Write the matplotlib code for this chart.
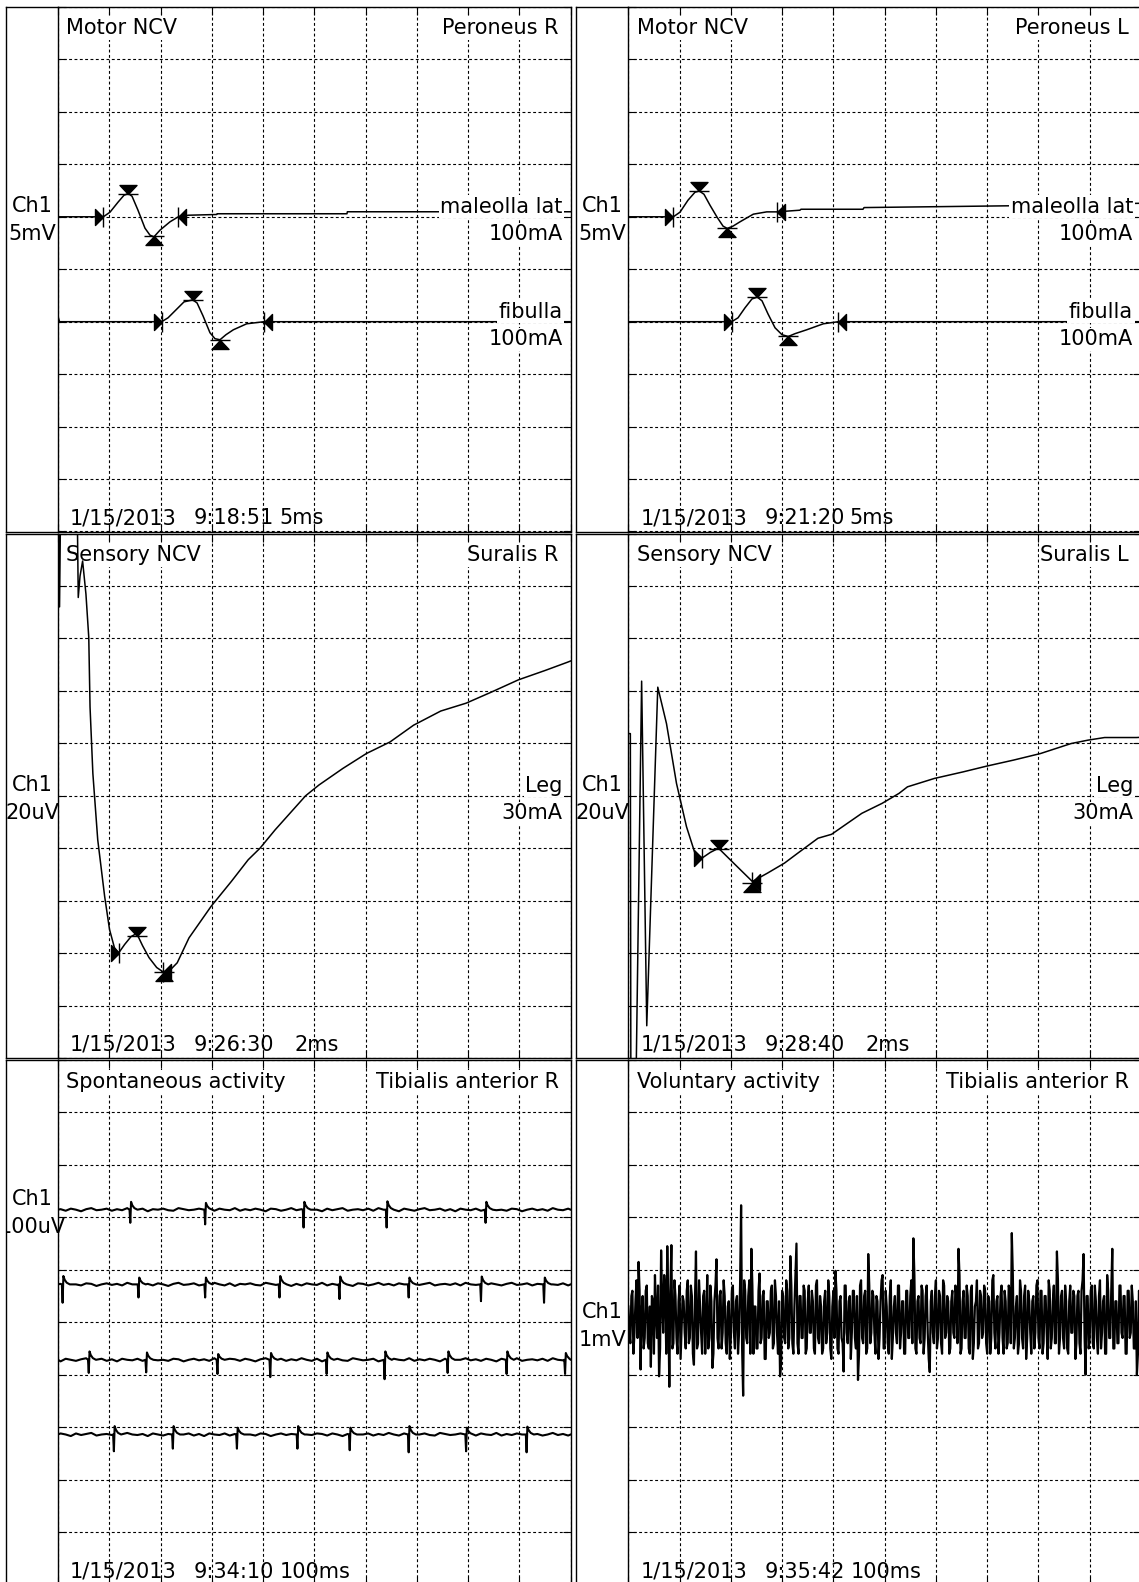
import numpy as np
import matplotlib
matplotlib.use("Agg")
import matplotlib.pyplot as plt
from matplotlib.path import Path
from matplotlib.patches import Rectangle

# ======================= DATA =======================
# ---- Motor NCV, Peroneus R  (time ms, amplitude mV)
perR_mal_t = [0, 4.42, 5.07, 5.85, 6.44, 6.86, 7.22, 7.80, 8.48, 8.97, 9.36, 9.95, 10.92, 11.73,
              12.71, 15.48, 15.52, 28.18, 28.22, 50.0]
perR_mal_v = [5.0, 5.0, 5.44, 6.39, 7.06, 7.21, 6.96, 5.63, 3.92, 3.25, 3.09, 3.73, 4.52, 5.0,
              5.15, 5.22, 5.29, 5.29, 5.48, 5.48]
perR_mal_marks = {"onset": (4.42, 5.0), "peak": (6.86, 7.15), "trough": (9.36, 3.16), "end": (11.73, 5.0)}
perR_fib_t = [0, 0.15, 10.11, 10.73, 11.51, 12.29, 13.14, 13.56, 14.14, 14.82, 15.31, 15.80, 16.38,
              17.10, 18.40, 20.09, 50.0]
perR_fib_v = [-4.5, -5.0, -5.0, -4.63, -3.87, -3.11, -2.92, -3.21, -4.44, -6.05, -6.62, -6.72, -6.24,
              -5.77, -5.2, -5.0, -5.0]
perR_fib_marks = {"onset": (10.11, -5.0), "peak": (13.14, -2.92), "trough": (15.80, -6.72), "end": (20.09, -5.0)}

# ---- Motor NCV, Peroneus L
perL_mal_t = [0, 4.39, 5.04, 5.82, 6.50, 6.92, 7.38, 7.97, 8.66, 9.24, 9.65, 10.21, 10.89, 12.19,
              13.50, 14.47, 16.74, 16.84, 22.89, 22.99, 37.22, 50.0]
perL_mal_v = [5.0, 5.0, 5.44, 6.58, 7.34, 7.46, 7.15, 6.10, 4.96, 4.11, 3.89, 4.11, 4.52, 5.25,
              5.47, 5.47, 5.63, 5.72, 5.72, 5.88, 6.05, 6.29]
perL_mal_marks = {"onset": (4.39, 5.0), "peak": (6.92, 7.46), "trough": (9.65, 3.89), "end": (14.47, 5.47)}
perL_fib_t = [0, 10.08, 10.70, 11.38, 12.06, 12.58, 13.04, 13.62, 14.31, 14.99, 15.60, 16.26, 17.40,
              19.02, 20.48, 50.0]
perL_fib_v = [-5.0, -5.0, -4.63, -3.68, -2.83, -2.66, -3.01, -4.25, -5.58, -6.24, -6.41, -6.14, -5.77,
              -5.2, -5.0, -5.0]
perL_fib_marks = {"onset": (10.08, -5.0), "peak": (12.58, -2.66), "trough": (15.60, -6.41), "end": (20.48, -5.0)}

# ---- Sensory NCV, Suralis R  (time ms, amplitude uV)
surR_t = [0.0, 0.03, 0.06, 0.10, 0.75, 0.79, 0.86, 0.96, 1.09, 1.20, 1.25, 1.36, 1.55, 1.82, 2.01,
          2.20, 2.37, 2.60, 2.85, 3.07, 3.30, 3.55, 3.85, 4.15, 4.40, 4.65, 5.11, 5.97, 6.76, 7.42,
          7.88, 8.47, 9.66, 10.18, 11.11, 12.03, 12.95, 13.87, 14.93, 15.92, 16.90, 17.96, 19.01,
          19.87, 20.0]
surR_v = [60, 110, 72, 110, 110, 75.6, 83.8, 89.5, 76.9, 60.4, 33.8, 8.5, -16.8, -38.4, -51.0,
          -57.9, -59.9, -56.7, -53.7, -52.5, -57.2, -61.7, -65.5, -67.5, -66.2, -63.7, -54.2, -42.2,
          -32.7, -24.4, -20.0, -13.0, 0.0, 4.1, 10.4, 16.1, 20.5, 26.9, 32.3, 35.3, 39.5, 44.2, 47.8,
          50.9, 51.4]
surR_marks = {"onset": (2.37, -59.9), "peak": (3.07, -53.3), "trough": (4.15, -67.2), "end": (4.10, -67.2)}

# ---- Sensory NCV, Suralis L
surL_t = [0.0, 0.08, 0.10, 0.23, 0.30, 0.52, 0.72, 1.15, 1.49, 1.88, 2.27, 2.60, 2.87, 3.20, 3.52,
          4.11, 4.84, 5.43, 6.09, 6.61, 7.40, 7.93, 8.46, 9.11, 9.90, 10.56, 10.89, 11.94, 13.06,
          13.98, 15.03, 16.08, 17.27, 17.93, 18.58, 19.83, 20.0]
surL_v = [23.7, 23.7, -110, -110, -110, 43.7, -87.7, 41.4, 27.5, 4.7, -11.8, -21.9, -23.8, -21.6,
          -20.0, -25.7, -32.7, -29.5, -25.7, -21.9, -16.2, -14.7, -11.1, -6.7, -2.9, 0.9, 3.4, 6.6,
          9.1, 11.3, 13.6, 16.1, 19.9, 21.2, 22.2, 22.2, 22.3]
surL_marks = {"onset": (2.87, -23.8), "peak": (3.52, -20.3), "trough": (4.84, -33.3), "end": (4.84, -33.0)}

# ---- Spontaneous activity (time ms, uV): 4 sweeps, spike times and deflections
spont_base_uv = [214.6, 72.2, -71.6, -214.0]
spont_spike_t = [[141, 287, 479, 641, 834],
                 [9, 157, 287, 432, 549, 684, 825, 948],
                 [60, 172, 311, 414, 524, 637, 760, 875, 989],
                 [109, 224, 349, 467, 569, 684, 796, 914]]
spont_spike_down = [[25, 28, 34, 34, 25],
                    [35, 25, 25, 25, 28, 25, 32, 35],
                    [25, 24, 27, 33, 27, 37, 25, 27, 27],
                    [32, 27, 27, 27, 30, 34, 32, 34]]
spont_spike_up = [[15, 13, 15, 16, 15],
                  [16, 13, 13, 16, 15, 13, 15, 13],
                  [16, 14, 11, 13, 14, 16, 16, 16, 13],
                  [16, 16, 13, 16, 13, 16, 13, 15]]
spont_wiggle_uv = [1, -2, 2, 0, -3, 1, 3, -1, 0, 2, -2, 1, -1, 3, 0, -2, 2, -3, 1, 0,
                   2, -1, -2, 3, 1, -1, 0, 2, -3, 1, -2, 2, 0, -1, 3, -2, 1, -1, 2, 0,
                   -3, 2, 1, -2, 0, 3, -1, 1, -2, 2, 0, -3, 2, -1, 1, 3, -2, 0, 1, -1,
                   2, -2, 3, 0, -1, 1, -3, 2, 0, -2, 1, 3, -1, 0, 2, -2, 1, -3, 2, 0,
                   -1, 2, -2, 1, 3, -1, 0, -2, 2, 1, -3, 0, 2, -1, 1, -2, 3, 0, -1, 2]

# ---- Voluntary activity (mV): samples at 0,4,8,... ms (a) and 2,6,10,... ms (b)
vol_dt_ms = 4.0
vol_mv_a = [0.3, -0.4, 0.6, -0.2, 0.8, 1.15, -0.9, 0.5, -0.3, 0.7,
            -0.5, -0.85, 0.4, 0.9, -0.3, -1.03, 1.37, -0.2, 0.6, 1.45,
            -1.23, 1.47, -0.4, 0.5, -0.6, 0.7, -0.1, 0.4, -0.5, 0.8,
            -0.3, 0.5, -0.81, 1.35, -0.4, 0.3, -0.6, 0.6, 0.0, -0.5,
            0.7, -0.87, 0.4, 1.2, -0.5, 0.6, -0.2, 0.5, -0.6, 0.4,
            -0.3, 0.7, -0.5, 0.5, -0.2, 2.23, -1.4, 0.6, -0.4, 0.8,
            1.4, -0.6, 0.3, -0.5, 0.93, -0.3, 0.6, -0.7, 0.4, -0.2,
            0.7, -0.4, 0.5, -0.6, -1.03, 0.6, -0.3, 0.8, -0.5, 1.26,
            -0.4, 0.3, 1.5, -0.6, 0.5, -0.3, 0.6, -0.5, 0.7, -0.2,
            0.4, -0.6, 0.8, -0.4, 0.3, -0.5, 0.6, -0.2, 0.5, -0.7,
            0.6, 0.98, -0.5, 0.4, -0.3, -0.94, 0.7, -0.4, 0.5, -0.2,
            0.6, -0.5, -1.1, 0.7, -0.3, 0.5, -0.6, 1.3, -0.4, 0.6,
            -0.2, 0.5, -0.7, 0.4, 0.9, -0.5, 0.3, -0.6, 0.8, -0.3,
            0.5, -0.4, 0.7, -0.2, 0.4, -0.6, 0.6, -0.3, 0.8, 1.6,
            -0.5, 0.4, -0.3, 0.7, -0.6, 0.5, -0.2, -0.95, 0.6, -0.4,
            0.8, -0.3, 0.5, -0.6, 0.7, -0.2, 0.4, -0.5, 0.6, -0.3,
            0.5, 1.4, -0.6, 0.4, -0.3, 0.7, -0.5, 0.6, -0.7, 0.3,
            0.8, -0.4, 0.5, -0.2, 0.6, -0.6, 0.4, -0.3, 0.9, -0.5,
            0.5, -0.2, 0.7, -0.6, 0.4, -0.4, 0.6, 1.7, -0.5, 0.3,
            -0.6, 0.8, -0.3, 0.5, -0.7, 0.6, -0.2, 0.4, -0.5, 0.7,
            -0.3, 0.6, -0.6, 0.5, -0.2, 0.8, -0.5, 0.4, -0.4, 1.35,
            -0.6, 0.5, -0.3, 0.7, -0.5, 0.4, -0.2, 0.6, -0.7, 0.5,
            -0.4, 0.6, 1.3, -1.0, 0.5, -0.3, 0.7, -0.5, 0.4, -0.6,
            0.8, -0.2, 0.5, -0.6, 0.6, -0.3, 1.4, -0.5, 0.4, -0.4,
            0.7, -0.3, 0.5, -0.6, 0.6, -0.2, 0.4, -0.5, -1.0, 0.6]
vol_mv_b = [-0.2, 0.5, -0.6, 0.4, -0.3, 0.6, 0.2, -0.5, 0.6, -0.4,
            0.3, 0.5, -0.6, 0.2, 0.7, -0.5, 0.4, 0.9, -0.6, 0.3,
            0.6, -0.5, 0.8, -0.3, 0.4, -0.7, 0.5, -0.2, 0.6, -0.4,
            0.7, -0.6, 0.4, -0.5, 0.8, -0.2, 0.5, -0.6, 0.9, -0.3,
            0.4, -0.6, 0.7, -0.3, 0.5, -0.5, 0.8, -0.4, 0.3, -0.7,
            0.6, -0.2, 0.4, -0.6, 0.7, -0.5, 0.8, -0.3, 0.5, -0.6,
            0.7, 0.3, -0.5, 0.6, -0.4, 0.5, -0.7, 0.4, -0.3, 0.6,
            -0.5, 0.8, -0.2, 0.4, -0.8, 0.5, -0.4, 0.6, -0.3, 0.7,
            -0.6, 0.9, -0.4, 0.5, -0.3, 0.7, -0.6, 0.4, -0.2, 0.6,
            -0.5, 0.7, -0.3, 0.5, -0.6, 0.4, -0.4, 0.8, -0.5, 0.3,
            -0.3, 0.6, -0.6, 0.5, -0.4, 0.7, -0.2, 0.4, -0.7, 0.6,
            -0.3, 0.5, -0.6, 0.8, -0.4, 0.6, -0.5, 0.7, -0.2, 0.5,
            -0.6, 0.4, -0.3, 0.8, -0.5, 0.6, -0.4, 0.5, -0.7, 0.3,
            -0.2, 0.7, -0.5, 0.4, -0.6, 0.6, -0.3, 0.5, -0.4, 0.9,
            -0.6, 0.5, -0.4, 0.6, -0.3, 0.7, -0.7, 0.4, -0.2, 0.5,
            -0.5, 0.6, -0.4, 0.8, -0.3, 0.5, -0.6, 0.4, -0.2, 0.7,
            -0.4, 0.9, -0.5, 0.6, -0.3, 0.5, -0.6, 0.7, -0.4, 0.4,
            -0.5, 0.6, -0.3, 0.7, -0.4, 0.5, -0.6, 0.8, -0.2, 0.4,
            -0.6, 0.5, -0.3, 0.6, -0.5, 0.7, -0.4, 0.9, -0.3, 0.5,
            -0.4, 0.6, -0.5, 0.7, -0.3, 0.4, -0.6, 0.5, -0.2, 0.8,
            -0.5, 0.6, -0.4, 0.5, -0.7, 0.6, -0.3, 0.7, -0.4, 0.8,
            -0.3, 0.6, -0.5, 0.4, -0.6, 0.7, -0.2, 0.5, -0.4, 0.6,
            -0.6, 0.8, -0.3, 0.5, -0.5, 0.6, -0.4, 0.7, -0.3, 0.5,
            -0.5, 0.4, -0.6, 0.9, -0.3, 0.6, -0.5, 0.4, -0.4, 0.7,
            -0.2, 0.5, -0.6, 0.6, -0.3, 0.7, -0.5, 0.4, -0.6, 0.5]

# ---- panel texts
titles_left = ["Motor NCV", "Motor NCV", "Sensory NCV", "Sensory NCV",
               "Spontaneous activity", "Voluntary activity"]
titles_right = ["Peroneus R", "Peroneus L", "Suralis R", "Suralis L",
                "Tibialis anterior R", "Tibialis anterior R"]
dates = ["1/15/2013"] * 6
clock = ["9:18:51", "9:21:20", "9:26:30", "9:28:40", "9:34:10", "9:35:42"]
sweeps = ["5ms", "5ms", "2ms", "2ms", "100ms", "100ms"]
gains = ["5mV", "5mV", "20uV", "20uV", "100uV", "1mV"]
ms_per_div = [5, 5, 2, 2, 100, 100]
units_per_div = [5, 5, 20, 20, 100, 1]

# ======================= LAYOUT =======================
W, H, DPI = 1139, 1582, 100
COL_OUTER = [6.0, 576.0]
COL_X0 = [58.0, 628.3]
GW = 512.7
ROW_TOP = [6.0, 532.5, 1059.0]
RH = 526.5
FS = 15
FONT = "DejaVu Sans"

fig = plt.figure(figsize=(W / DPI, H / DPI), dpi=DPI)
fig.patch.set_facecolor("white")
ov = fig.add_axes([0, 0, 1, 1], zorder=5)
ov.set_xlim(0, W)
ov.set_ylim(H, 0)
ov.axis("off")

codes = [Path.MOVETO, Path.LINETO, Path.LINETO, Path.CLOSEPOLY, Path.MOVETO, Path.LINETO]
MARKERS = {
    "onset": Path([(-8, -8), (-8, 8), (0, 0), (0, 0), (0, -10), (0, 10)], codes),
    "end": Path([(8, -8), (8, 8), (0, 0), (0, 0), (0, -10), (0, 10)], codes),
    "peak": Path([(-8.5, 9), (8.5, 9), (0, 0), (0, 0), (-10, 0), (10, 0)], codes),
    "trough": Path([(-8.5, -9), (8.5, -9), (0, 0), (0, 0), (-10, 0), (10, 0)], codes),
}


def make_panel(i):
    r, c = i // 2, i % 2
    top, x0, outer = ROW_TOP[r], COL_X0[c], COL_OUTER[c]
    tdiv, udiv = ms_per_div[i], units_per_div[i]
    ax = fig.add_axes([x0 / W, 1 - (top + RH - 1) / H, GW / W, (RH - 2) / H], zorder=1)
    ax.set_facecolor("none")
    ax.set_xlim(0, 10 * tdiv)
    ax.set_ylim(-5 * udiv, 5 * udiv)
    ax.set_xticks(np.linspace(0, 10 * tdiv, 11))
    ax.set_yticks(np.linspace(-5 * udiv, 5 * udiv, 11))
    ax.tick_params(direction="in", length=5.8, width=0.8, color="k", top=True, right=True,
                   labelbottom=False, labelleft=False)
    ax.set_axisbelow(True)
    ax.grid(True, color="k", lw=0.8, ls=(0, (2.6, 2.2)))
    for s in ax.spines.values():
        s.set_linewidth(1.0)
        s.set_color("k")
    # label column frame
    ov.plot([outer, outer], [top + 1, top + RH - 1], color="k", lw=1.0)
    ov.plot([outer, x0], [top + 1, top + 1], color="k", lw=1.0)
    ov.plot([outer, x0], [top + RH - 1, top + RH - 1], color="k", lw=1.0)
    # header texts (white box hides grid, traces drawn over)
    bb = dict(boxstyle="square,pad=0.08", fc="white", ec="none")
    ax.text(x0 + 8.5, top + 28.5, titles_left[i], transform=ov.transData, fontsize=FS,
            family=FONT, ha="left", va="baseline", bbox=bb, zorder=1.5)
    ax.text(x0 + GW - 12, top + 28.5, titles_right[i], transform=ov.transData, fontsize=FS,
            family=FONT, ha="right", va="baseline", bbox=bb, zorder=1.5)
    # footer
    yb = top + RH - 8
    sweep_off = {"5ms": 221, "2ms": 237, "100ms": 222}[sweeps[i]]
    for xo, s in [(12, dates[i]), (136, clock[i]), (sweep_off, sweeps[i])]:
        ax.text(x0 + xo, yb, s, transform=ov.transData, fontsize=FS, family=FONT,
                ha="left", va="baseline", zorder=3)
    return ax


def ypx(i, v):
    r = i // 2
    udiv = units_per_div[i]
    top = ROW_TOP[r] + 1
    return top + (5 * udiv - v) / (10 * udiv) * (RH - 2)


def channel_label(i, ref_v):
    r, c = i // 2, i % 2
    top, x0, outer = ROW_TOP[r], COL_X0[c], COL_OUTER[c]
    xc = (outer + x0) / 2
    y = ypx(i, ref_v)
    clip = Rectangle((outer, top), 700, RH, transform=ov.transData)
    for s, dy in [("Ch1", -4.5), (gains[i], 23.5)]:
        t = ov.text(xc, y + dy, s, fontsize=FS, family=FONT, ha="center", va="baseline")
        t.set_clip_path(clip)
        t.set_clip_on(True)


def side_label(ax, i, ref_v, name, current):
    c = i % 2
    xr = COL_X0[c] + GW - 8
    y = ypx(i, ref_v)
    bb = dict(boxstyle="square,pad=0.08", fc="white", ec="none")
    for s, dy in [(name, -4.0), (current, 23.7)]:
        ax.text(xr, y + dy, s, transform=ov.transData, fontsize=FS, family=FONT,
                ha="right", va="baseline", bbox=bb, zorder=3)


def trace(ax, t, v, lw=1.1):
    ax.plot(t, v, color="k", lw=lw, zorder=2, solid_joinstyle="round")


def marks(ax, m):
    for k, (t, v) in m.items():
        ax.plot([t], [v], ls="none", marker=MARKERS[k], ms=14.4, mfc="k", mec="k",
                mew=1.0, zorder=4, clip_on=False)


axes = [make_panel(i) for i in range(6)]

# ---- Motor panels
for i, (mt, mv, mm, ft, fv, fm) in enumerate([
        (perR_mal_t, perR_mal_v, perR_mal_marks, perR_fib_t, perR_fib_v, perR_fib_marks),
        (perL_mal_t, perL_mal_v, perL_mal_marks, perL_fib_t, perL_fib_v, perL_fib_marks)]):
    ax = axes[i]
    trace(ax, mt, mv)
    trace(ax, ft, fv)
    marks(ax, mm)
    marks(ax, fm)
    side_label(ax, i, 5.0, "maleolla lat", "100mA")
    side_label(ax, i, -5.0, "fibulla", "100mA")
    channel_label(i, 5.0)

# ---- Sensory panels
for i, (st, sv, sm) in [(2, (surR_t, surR_v, surR_marks)), (3, (surL_t, surL_v, surL_marks))]:
    ax = axes[i]
    trace(ax, st, sv)
    marks(ax, sm)
    side_label(ax, i, 0.0, "Leg", "30mA")
    channel_label(i, 0.0)

# ---- Spontaneous activity
ax = axes[4]
wig_t = np.arange(len(spont_wiggle_uv)) * 10.0 + 5.0
shape_dt = [-1.5, 0.0, 1.5, 4.0, 8.0, 14.0]
for k in range(4):
    base = spont_base_uv[k]
    wig = np.roll(spont_wiggle_uv, 17 * k)
    pts = []
    for tt, w in zip(wig_t, wig):
        if all(not (s - 3 <= tt <= s + 16) for s in spont_spike_t[k]):
            pts.append((tt, base + w))
    for s, dn, up in zip(spont_spike_t[k], spont_spike_down[k], spont_spike_up[k]):
        amps = [0, -dn, up, 0.55 * up, 0.2 * up, 0]
        for d, a in zip(shape_dt, amps):
            pts.append((s + d, base + a))
    pts.append((0.0, base))
    pts.append((1000.0, base))
    pts.sort()
    trace(ax, [p[0] for p in pts], [p[1] for p in pts], lw=1.5)
channel_label(4, spont_base_uv[0])

# ---- Voluntary activity
ax = axes[5]
t_a = np.arange(len(vol_mv_a)) * vol_dt_ms
t_b = np.arange(len(vol_mv_b)) * vol_dt_ms + vol_dt_ms / 2
vol_t = np.concatenate([t_a, t_b])
vol_v = np.concatenate([vol_mv_a, vol_mv_b])
order = np.argsort(vol_t)
trace(ax, vol_t[order], vol_v[order], lw=1.6)
channel_label(5, 0.0)

fig.savefig("out.png", dpi=DPI, facecolor="white")
